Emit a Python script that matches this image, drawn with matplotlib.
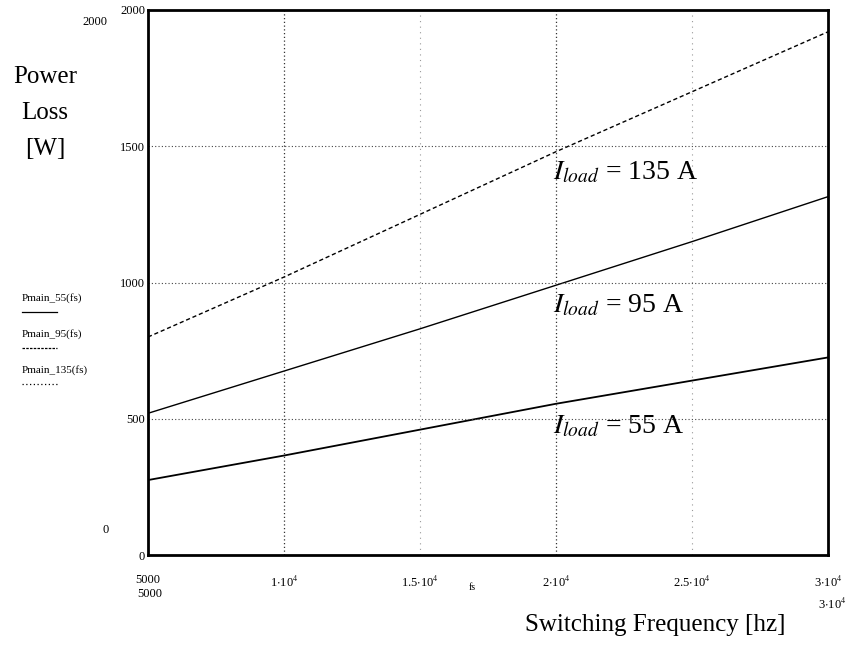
import matplotlib
matplotlib.use('Agg')
import matplotlib.pyplot as plt
import numpy as np

plt.rcParams['font.family'] = ['Liberation Serif', 'DejaVu Serif']
plt.rcParams['mathtext.fontset'] = 'stix'

# switching frequency [Hz] and power loss [W] for the three load currents
fs = [5000, 10000, 15000, 20000, 25000, 30000]
p_55 = [275, 365, 460, 555, 640, 725]
p_95 = [520, 675, 830, 990, 1150, 1315]
p_135 = [800, 1020, 1250, 1480, 1700, 1920]

xticks = [5000, 10000, 15000, 20000, 25000, 30000]
xlabels = ['5000', r'1$\cdot$10$^4$', r'1.5$\cdot$10$^4$', r'2$\cdot$10$^4$',
           r'2.5$\cdot$10$^4$', r'3$\cdot$10$^4$']
yticks = [0, 500, 1000, 1500, 2000]
ylabels = ['0', '500', '1000', '1500', '2000']

fig = plt.figure(figsize=(8.63, 6.49), dpi=100)
ax = fig.add_axes([148/863, 94/649, 680/863, 545/649])

ax.plot(fs, p_55, color='black', lw=1.3, ls='-')
ax.plot(fs, p_95, color='black', lw=1.0, ls='-')
ax.plot(fs, p_135, color='black', lw=1.0, ls=(0, (3, 2)))

ax.set_xlim(5000, 30000)
ax.set_ylim(0, 2000)
ax.set_xticks(xticks)
ax.set_xticklabels(xlabels, fontsize=9)
ax.set_yticks(yticks)
ax.set_yticklabels(ylabels, fontsize=9)
ax.tick_params(axis='both', length=0)
ax.tick_params(axis='x', pad=14)
ax.tick_params(axis='y', pad=2)

for v in [10000, 20000]:
    ax.axvline(v, color='#333333', lw=0.9, ls=(0, (1, 2)))
for v in [15000, 25000]:
    ax.axvline(v, color='#999999', lw=0.8, ls=(0, (1, 4)))
for v in [500, 1000, 1500]:
    ax.axhline(v, color='#444444', lw=0.8, ls=(0, (1, 2)))

for s in ax.spines.values():
    s.set_linewidth(2)
    s.set_color('black')

# curve labels
ax.text(19900, 1405, r'$I_{load}$ = 135 A', fontsize=20, va='center')
ax.text(19900, 917, r'$I_{load}$ = 95 A', fontsize=20, va='center')
ax.text(19900, 470, r'$I_{load}$ = 55 A', fontsize=20, va='center')

# duplicated Mathcad style range markers
fig.text(82/863, 1 - 22/649, '2000', fontsize=9, va='center')
fig.text(102/863, 1 - 530/649, '0', fontsize=9, va='center')
fig.text(137/863, 1 - 594/649, '5000', fontsize=9, va='center')
fig.text(818/863, 1 - 604/649, r'3$\cdot$10$^4$', fontsize=9, va='center')
fig.text(469/863, 1 - 588/649, 'fs', fontsize=7, va='center')

# axis titles
fig.text(45/863, 1 - 113/649, 'Power\nLoss\n[W]', fontsize=18, ha='center',
         va='center', linespacing=1.85)
fig.text(655/863, 1 - 625/649, 'Switching Frequency [hz]', fontsize=18,
         ha='center', va='center')

# legend block on the left
names = ['Pmain_55(fs)', 'Pmain_95(fs)', 'Pmain_135(fs)']
styles = ['-', (0, (2, 1)), (0, (1, 2))]
for i, (nm, st) in enumerate(zip(names, styles)):
    ty = 298 + 36 * i
    fig.text(22/863, 1 - ty/649, nm, fontsize=8, va='center')
    fig.add_artist(plt.Line2D([22/863, 57/863], [1 - (ty + 14)/649] * 2,
                              color='black', lw=0.9, ls=st,
                              transform=fig.transFigure))

fig.savefig('out.png', dpi=100)
